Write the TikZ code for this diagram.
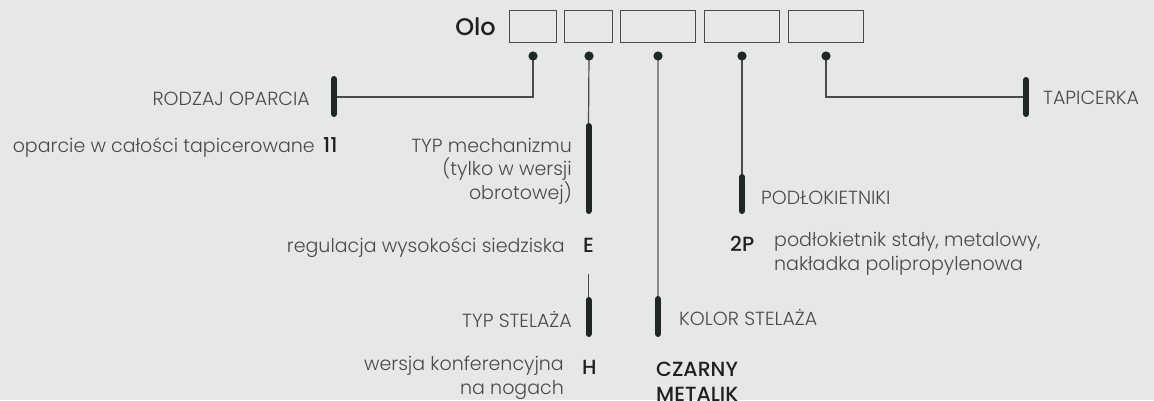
\documentclass[tikz,border=0pt]{standalone}
\usepackage{fontspec}
\setmainfont{Poppins}[UprightFont={* Light}, BoldFont={* Medium}]
\definecolor{bg}{HTML}{E6E7E9}
\definecolor{txt}{HTML}{4A4A4A}
\definecolor{val}{HTML}{231F20}
\definecolor{barc}{HTML}{1E2626}
\definecolor{ln}{HTML}{4A4A4A}
\definecolor{ln3}{HTML}{8A8A8A}
\tikzset{
  box/.style={draw=ln, line width=1pt, minimum height=32pt, inner sep=0pt},
  conn/.style={draw=ln, line width=1.2pt},
  conn3/.style={draw=ln3, line width=1.8pt},
  barline/.style={draw=barc, line width=6pt, line cap=round},
  dotc/.style={fill=barc},
  lab/.style={text=txt, inner sep=0pt, font=\fontsize{19}{23.5}\selectfont},
  valt/.style={text=val, inner sep=0pt, font=\fontsize{20.5}{24.5}\selectfont\bfseries},
}
\begin{document}
\begin{tikzpicture}[x=1pt,y=-1pt]
\fill[bg] (0,0) rectangle (1154,400);
\useasboundingbox (0,0) rectangle (1154,400);
% code boxes
\node[valt, anchor=base east, font=\fontsize{24}{28}\selectfont\bfseries] (olo) at (496,35) {Olo};
\node[box, minimum width=47pt] (b1) at (532.5,26) {};
\node[box, minimum width=48pt] (b2) at (588,26) {};
\node[box, minimum width=75pt] (b3) at (657.5,26) {};
\node[box, minimum width=75pt] (b4) at (741.5,26) {};
\node[box, minimum width=75pt] (b5) at (825.5,26) {};
% dots
\coordinate (d1) at (533,56);
\coordinate (d2) at (589,56);
\coordinate (d3) at (658,56);
\coordinate (d4) at (742,56);
\coordinate (d5) at (826,56);
% bars
\coordinate (r1t) at (334,79); \coordinate (r1b) at (334,114); \coordinate (r1m) at (334,97);
\coordinate (r2t) at (588.5,126); \coordinate (r2b) at (588.5,211);
\coordinate (s2t) at (588.5,274);
\coordinate (r6t) at (588.5,300); \coordinate (r6b) at (588.5,334);
\coordinate (r3t) at (658,299); \coordinate (r3b) at (658,334);
\coordinate (r4t) at (742,177); \coordinate (r4b) at (742,211);
\coordinate (r5t) at (1026,80); \coordinate (r5b) at (1026,114); \coordinate (r5m) at (1026,97);
% connectors
\draw[conn] (d1) |- (r1m);
\draw[conn] (d2) -- (r2t);
\draw[conn] (s2t) -- (r6t);
\draw[conn3] (d3) -- (r3t);
\draw[conn] (d4) -- (r4t);
\draw[conn] (d5) |- (r5m);
\foreach \b in {1,2,6,3,4,5} \draw[barline] (r\b t) -- (r\b b);
\foreach \d in {d1,d2,d3,d4,d5} \fill[dotc] (\d) circle (4.6pt);
% labels
\node[lab, anchor=base east] (l1) at (310,105) {RODZAJ OPARCIA};
\node[lab, anchor=base east] (o1) at (315,152) {oparcie w całości tapicerowane};
\node[valt, anchor=base west] (v1) at (323,152) {11};
\node[lab, anchor=base east, align=right] (l2) at (572,199) {TYP mechanizmu\\(tylko w wersji\\obrotowej)};
\node[lab, anchor=base east] (o2) at (565,252) {regulacja wysokości siedziska};
\node[valt, anchor=base west] (v2) at (583,252) {E};
\node[lab, anchor=base east] (l6) at (572,327) {TYP STELAŻA};
\node[lab, anchor=base east, align=right] (o6) at (564,394) {wersja konferencyjna\\na nogach};
\node[valt, anchor=base west] (v6) at (582,374) {H};
\node[lab, anchor=base west] (l3) at (679,325) {KOLOR STELAŻA};
\node[valt, anchor=base west, align=left] (v3) at (656,401) {CZARNY\\METALIK};
\node[lab, anchor=base west] (l4) at (761,204) {PODŁOKIETNIKI};
\node[valt, anchor=base west] (v4) at (730,251) {2P};
\node[lab, anchor=base west, align=left] (o4) at (774,270) {podłokietnik stały, metalowy,\\nakładka polipropylenowa};
\node[lab, anchor=base west] (l5) at (1043,104) {TAPICERKA};
\end{tikzpicture}
\end{document}
